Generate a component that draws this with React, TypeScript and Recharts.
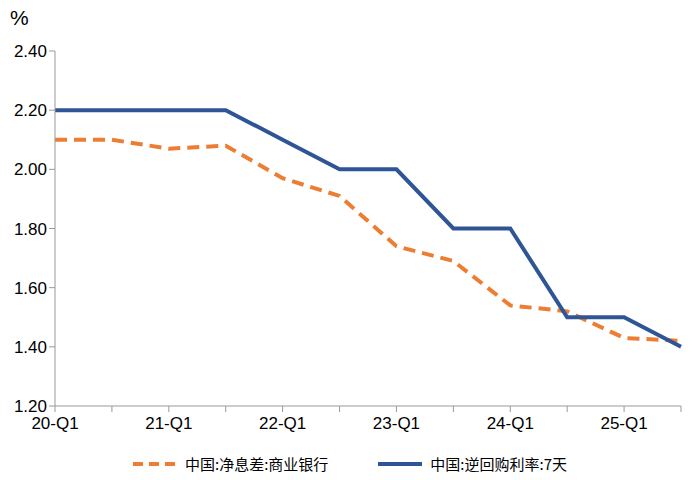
import { LineChart, Line, XAxis, YAxis } from 'recharts';

const periods = ['20-Q1', '20-Q3', '21-Q1', '21-Q3', '22-Q1', '22-Q3', '23-Q1', '23-Q3', '24-Q1', '24-Q3', '25-Q1', '25-Q3'];
const netInterestMargin = [2.10, 2.10, 2.07, 2.08, 1.97, 1.91, 1.74, 1.69, 1.54, 1.52, 1.43, 1.42];
const reverseRepo7d = [2.20, 2.20, 2.20, 2.20, 2.10, 2.00, 2.00, 1.80, 1.80, 1.50, 1.50, 1.40];
const yTicks = [1.2, 1.4, 1.6, 1.8, 2.0, 2.2, 2.4];

const data = periods.map((p, i) => ({ p, nim: netInterestMargin[i], repo: reverseRepo7d[i] }));

const font = '"Liberation Sans", Arial, sans-serif';

export default function App() {
  return (
    <div style={{ position: 'fixed', left: 0, top: 0, width: 700, height: 480, background: '#fff', fontFamily: font }}>
      <div style={{ position: 'absolute', left: 10, top: 6, fontSize: 21, color: '#000' }}>%</div>
      <LineChart width={700} height={480} data={data} margin={{ top: 51, right: 19, bottom: 44, left: 0 }}>
        <XAxis
          dataKey="p"
          interval={0}
          tickFormatter={(v: string) => (v.endsWith('Q1') ? v : '')}
          tick={{ fill: '#000', fontSize: 17, fontFamily: font, dy: 3 }}
          axisLine={{ stroke: '#999' }}
          tickLine={{ stroke: '#999' }}
          tickSize={6}
          height={30}
        />
        <YAxis
          domain={[1.2, 2.4]}
          ticks={yTicks}
          tickFormatter={(v: number) => v.toFixed(2)}
          tick={{ fill: '#000', fontSize: 17, fontFamily: font }}
          axisLine={{ stroke: '#999' }}
          tickLine={{ stroke: '#999' }}
          tickSize={6}
          width={55}
        />
        <Line dataKey="nim" stroke="#ed7d31" strokeWidth={4} strokeDasharray="12 7" dot={false} isAnimationActive={false} />
        <Line dataKey="repo" stroke="#2f5597" strokeWidth={4} dot={false} isAnimationActive={false} />
      </LineChart>
      <div style={{ position: 'absolute', top: 453, left: 0, width: 700, display: 'flex', justifyContent: 'center', gap: 50, fontSize: 15, color: '#000', fontFamily: '"Noto Sans CJK SC", sans-serif' }}>
        <span style={{ display: 'flex', alignItems: 'center' }}>
          <svg width={44} height={6} style={{ marginRight: 8 }}><line x1={0} y1={3} x2={44} y2={3} stroke="#ed7d31" strokeWidth={4} strokeDasharray="10 6" /></svg>
          中国:净息差:商业银行
        </span>
        <span style={{ display: 'flex', alignItems: 'center' }}>
          <svg width={44} height={6} style={{ marginRight: 8 }}><line x1={0} y1={3} x2={44} y2={3} stroke="#2f5597" strokeWidth={4} /></svg>
          中国:逆回购利率:7天
        </span>
      </div>
    </div>
  );
}
